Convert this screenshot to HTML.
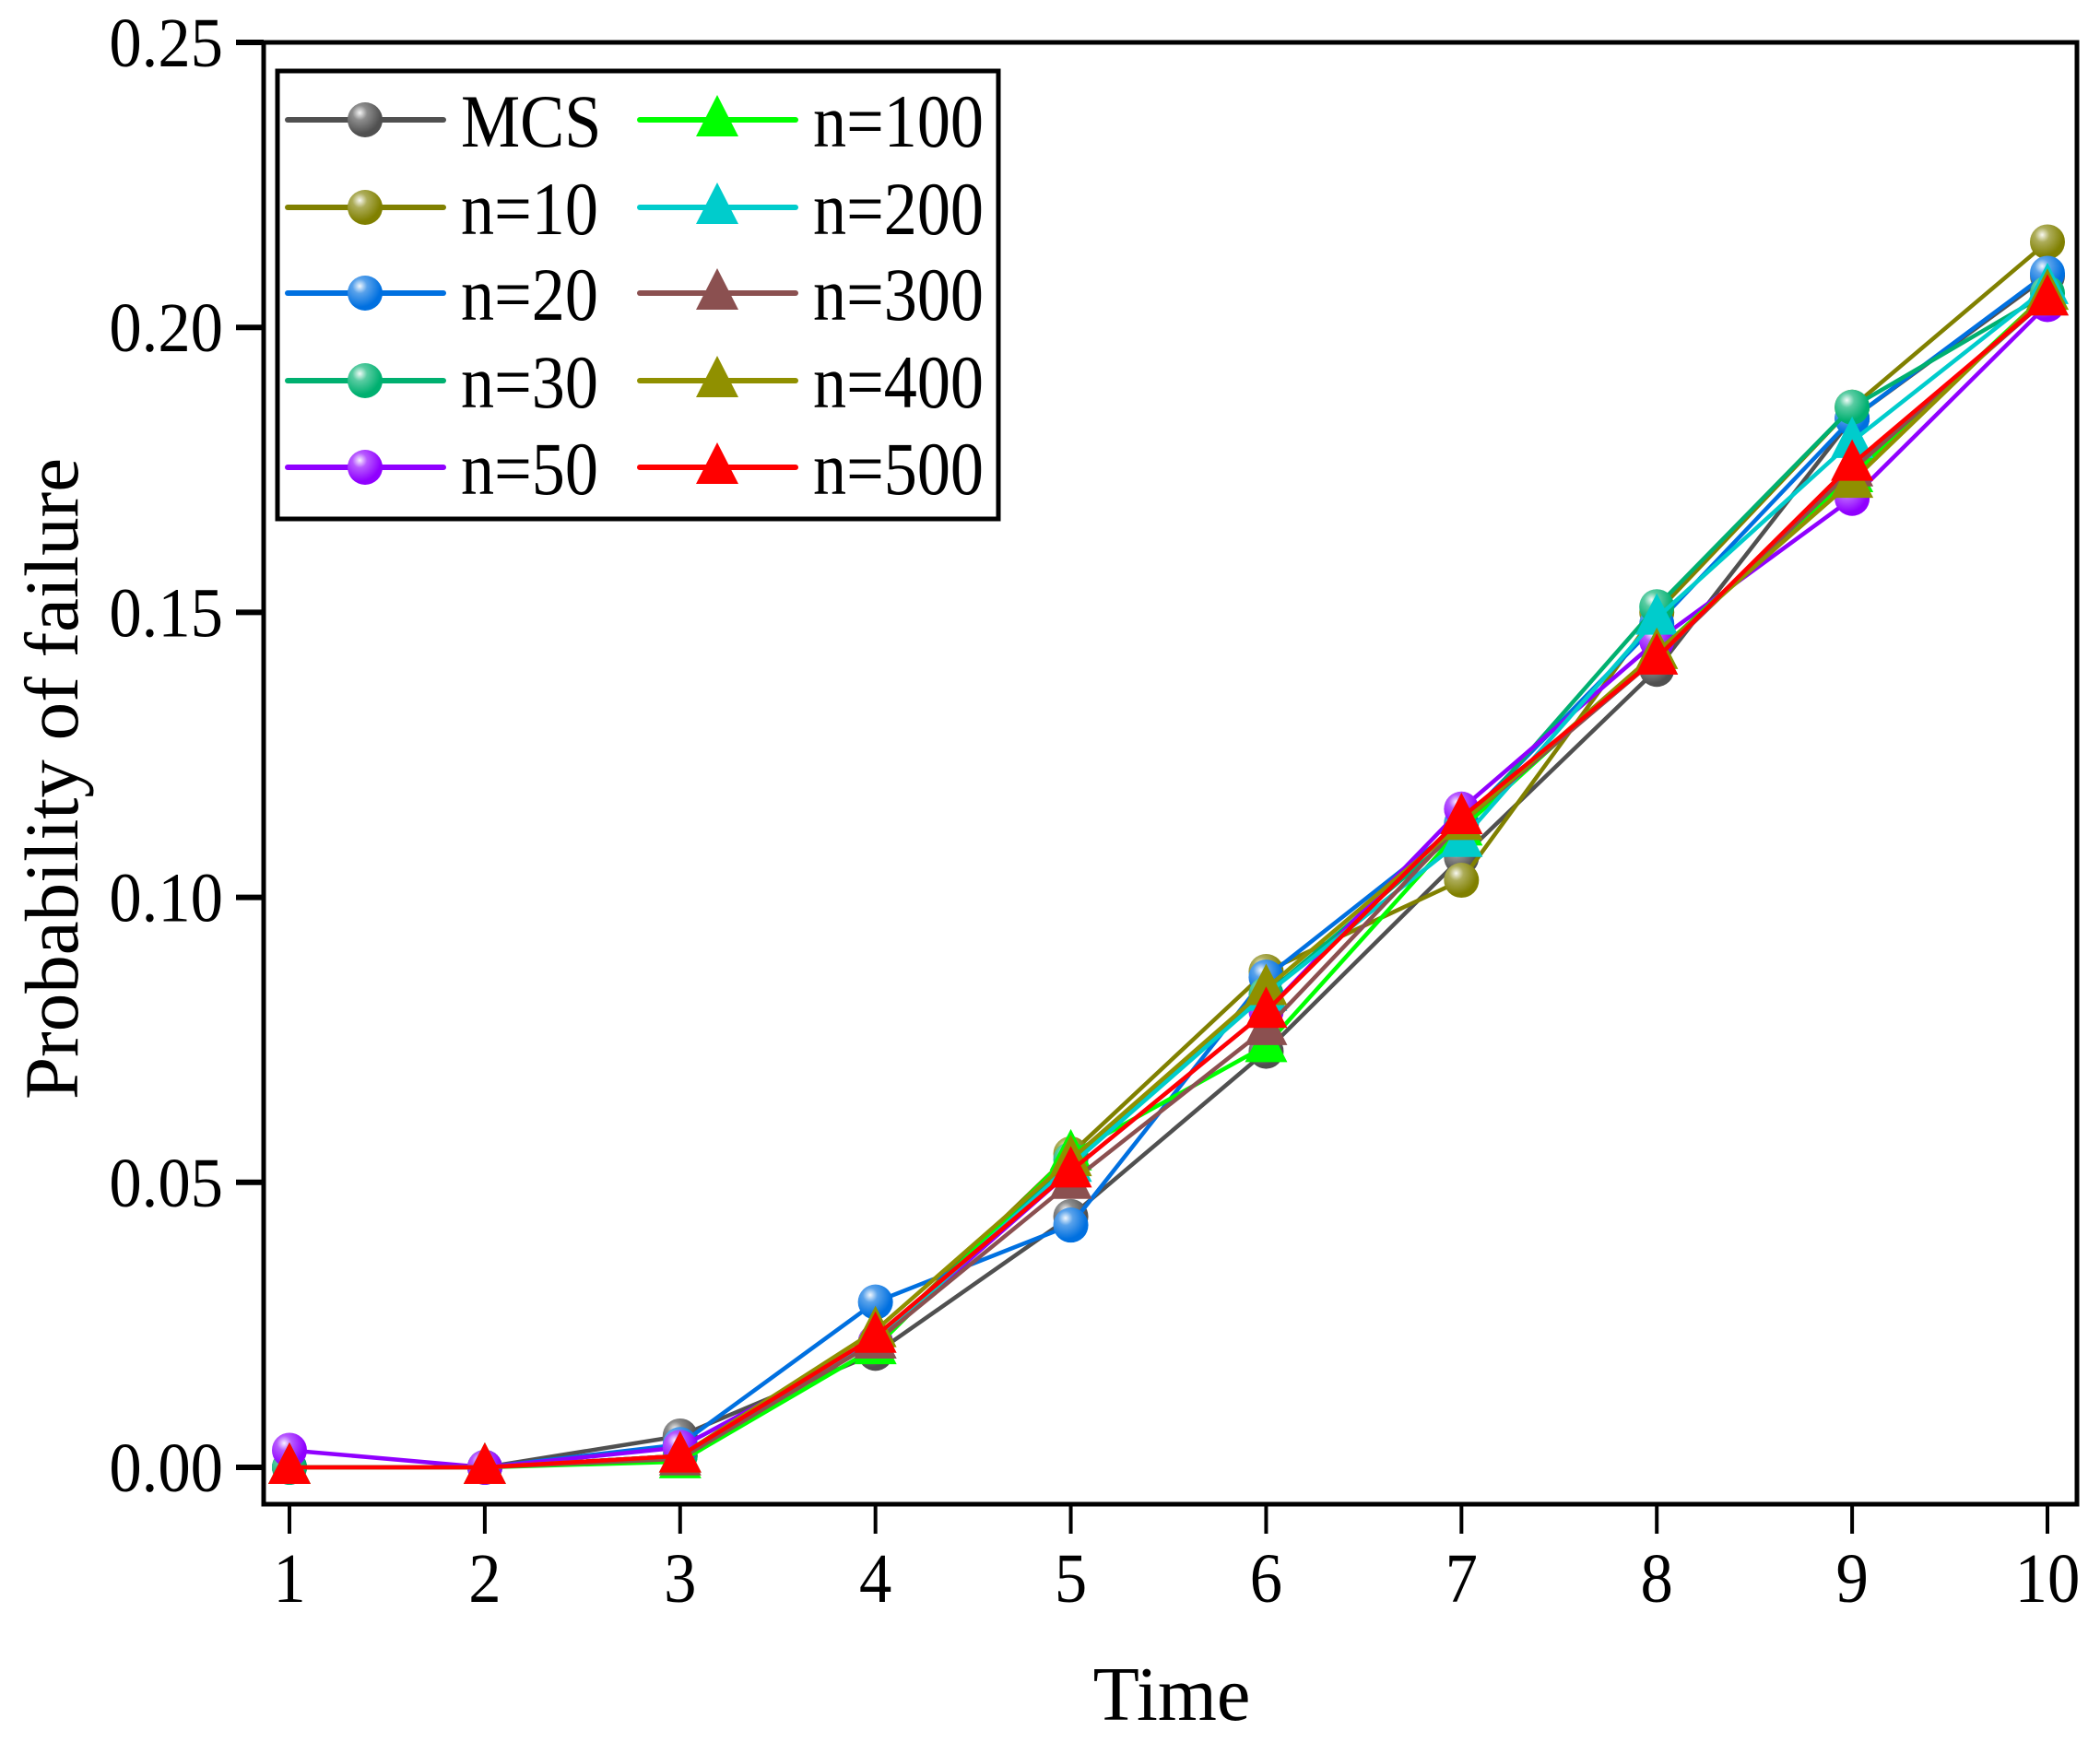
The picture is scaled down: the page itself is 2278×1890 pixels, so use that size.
<!DOCTYPE html>
<html><head><meta charset="utf-8"><style>
html,body{margin:0;padding:0;background:#fff;}
svg text{font-family:"Liberation Serif",serif;fill:#000;}
</style></head><body>
<svg id="chart" width="2278" height="1885" viewBox="0 0 2278 1885" xmlns="http://www.w3.org/2000/svg">
<defs>
<radialGradient id="shine" cx="0.35" cy="0.3" r="0.6">
<stop offset="0" stop-color="#fff" stop-opacity="0.95"/>
<stop offset="0.35" stop-color="#fff" stop-opacity="0.35"/>
<stop offset="1" stop-color="#fff" stop-opacity="0"/>
</radialGradient>
</defs>
<g id="plot"></g>
<text font-size="84" text-anchor="middle" transform="translate(1271,1866) scale(0.98,1)">Time</text>
<text font-size="83" text-anchor="middle" transform="translate(84,845) rotate(-90)">Probability of failure</text>
<g id="legend"></g>
</svg>
<script>
const times = [1,2,3,4,5,6,7,8,9,10];
const yTicks = [0, 0.05, 0.10, 0.15, 0.20, 0.25];
const yTickLabels = ["0.00","0.05","0.10","0.15","0.20","0.25"];
const seriesNames = ["MCS","n=10","n=20","n=30","n=50","n=100","n=200","n=300","n=400","n=500"];
const seriesColors = ["#505050","#808000","#0070e0","#00b070","#9000ff","#00ff00","#00cccc","#8b5050","#909000","#ff0000"];
const seriesMarkers = ["circle","circle","circle","circle","circle","triangle","triangle","triangle","triangle","triangle"];
const valsMCS  = [0, 0, 0.0055, 0.020, 0.044, 0.073, 0.107, 0.140, 0.184, 0.209];
const vals10   = [0, 0, 0.002, 0.022, 0.055, 0.087, 0.103, 0.150, 0.186, 0.215];
const vals20   = [0, 0, 0.004, 0.029, 0.0425, 0.086, 0.113, 0.148, 0.184, 0.2095];
const vals30   = [0, 0, 0.002, 0.022, 0.054, 0.083, 0.112, 0.151, 0.186, 0.206];
const vals50   = [0.003, 0, 0.0035, 0.022, 0.052, 0.080, 0.1155, 0.145, 0.170, 0.204];
const vals100  = [0, 0, 0.001, 0.021, 0.055, 0.074, 0.112, 0.143, 0.174, 0.206];
const vals200  = [0, 0, 0.002, 0.022, 0.053, 0.083, 0.110, 0.149, 0.180, 0.207];
const vals300  = [0, 0, 0.0015, 0.022, 0.050, 0.077, 0.113, 0.142, 0.175, 0.205];
const vals400  = [0, 0, 0.002, 0.024, 0.054, 0.084, 0.113, 0.143, 0.173, 0.206];
const vals500  = [0, 0, 0.002, 0.023, 0.052, 0.080, 0.114, 0.142, 0.176, 0.205];
const allVals = [valsMCS, vals10, vals20, vals30, vals50, vals100, vals200, vals300, vals400, vals500];

const NS = "http://www.w3.org/2000/svg";
const L = 286, R = 2253, T = 46, B = 1632;
function xs(t){ return 314 + (t - 1) * (2221 - 314) / 9; }
function ys(v){ return 1592 + (46 - 1592) * v / 0.25; }
function mk(tag, attrs, parent){
  const e = document.createElementNS(NS, tag);
  for (const k in attrs) e.setAttribute(k, attrs[k]);
  parent.appendChild(e); return e;
}
const plot = document.getElementById('plot');
const legend = document.getElementById('legend');

function marker(type, x, y, color, parent){
  if (type === 'circle') {
    const g = mk('g', {}, parent);
    mk('circle', {cx:x, cy:y, r:19, fill:color}, g);
    mk('circle', {cx:x, cy:y, r:19, fill:'url(#shine)'}, g);
    return g;
  } else {
    return mk('polygon', {points:`${x},${y-27} ${x-23},${y+18} ${x+23},${y+18}`, fill:color}, parent);
  }
}

const frame = mk('rect', {x:L, y:T, width:R-L, height:B-T, fill:'none', stroke:'#000', 'stroke-width':5}, plot);



yTicks.forEach((v, i) => {
  const y = ys(v);
  const tk = mk('line', {x1:L-30, x2:L, y1:y, y2:y, stroke:'#000', 'stroke-width':6}, plot);
  
  
  const lb = mk('text', {'font-size':76, 'text-anchor':'end', transform:`translate(${L-44},${y+26}) scale(0.93,1)`}, plot);
  lb.textContent = yTickLabels[i];
  
  
});
times.forEach(t => {
  const x = xs(t);
  const tk = mk('line', {x1:x, x2:x, y1:B, y2:B+32, stroke:'#000', 'stroke-width':4}, plot);
  
  
  const lb = mk('text', {'font-size':76, 'text-anchor':'middle', transform:`translate(${x},1738) scale(0.93,1)`}, plot);
  lb.textContent = String(t);
  
  
});

allVals.forEach((vals, si) => {
  const g = mk('g', {}, plot);
  
  
  const pts = vals.map((v, i) => xs(times[i]) + ',' + ys(v)).join(' ');
  const pl = mk('polyline', {points:pts, fill:'none', stroke:seriesColors[si], 'stroke-width':4.5, 'stroke-linejoin':'round'}, g);
  
  
  vals.forEach((v, i) => {
    const m = marker(seriesMarkers[si], xs(times[i]), ys(v), seriesColors[si], g);
    
    
  });
});

const lbox = mk('rect', {x:301, y:77, width:782, height:486, fill:'#fff', stroke:'#000', 'stroke-width':5}, legend);


const rowsY = [130, 225, 318, 413, 507];
seriesNames.forEach((name, si) => {
  const col = si < 5 ? 0 : 1, row = si % 5;
  const x0 = col === 0 ? 312 : 694;
  const y = rowsY[row];
  const g = mk('g', {}, legend);
  
  
  mk('line', {x1:x0, x2:x0+169, y1:y, y2:y, stroke:seriesColors[si], 'stroke-width':6, 'stroke-linecap':'round'}, g);
  marker(seriesMarkers[si], x0+84, y, seriesColors[si], g);
  const t = mk('text', {'font-size':82, transform:`translate(${x0+188},${y+29}) scale(0.88,1)`}, g);
  t.textContent = name;
});
</script>
</body></html>
